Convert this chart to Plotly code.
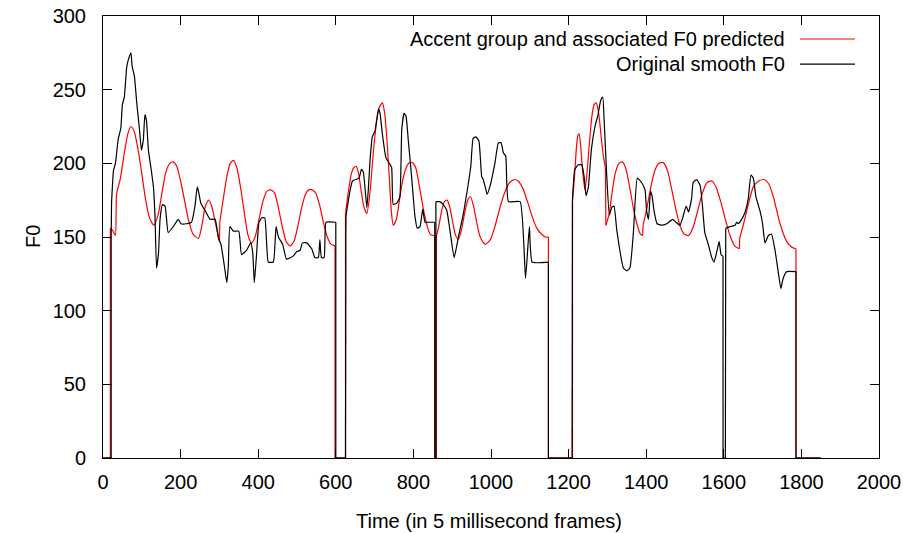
import plotly.graph_objects as go

# Predicted F0 (accent groups) - (frame, F0)
red_frames = [0, 19, 19, 26, 32, 35, 45, 55, 64, 72, 80, 90, 100, 110, 120, 131, 142, 152, 162, 172, 181, 190, 200, 210, 220, 232, 246, 255, 263, 272, 280, 290, 300, 301, 310, 320, 328, 336, 345, 355, 365, 374, 383, 392, 402, 412, 422, 432, 442, 452, 462, 472, 482, 492, 502, 512, 522, 530, 539, 548, 558, 568, 578, 588, 598, 598, 625,
              625, 632, 640, 646, 652, 658, 665, 672, 680, 688, 696, 704, 712, 720, 726, 732, 738, 743, 748, 756, 764, 772, 780, 788, 797, 806, 815, 825, 835, 843, 851, 856, 856, 859, 859, 866, 873, 880, 887, 894, 902, 909, 916, 924, 932, 940, 947, 955, 963, 972, 985, 998, 1010, 1022, 1035, 1048, 1060, 1070, 1082, 1094, 1106, 1118, 1130, 1140, 1148, 1148, 1210,
              1210, 1215, 1220, 1224, 1227, 1231, 1236, 1242, 1248, 1254, 1260, 1266, 1271, 1277, 1284, 1290, 1295, 1296, 1304, 1312, 1320, 1330, 1339, 1348, 1358, 1368, 1378, 1385, 1391, 1392, 1402, 1412, 1422, 1433, 1444, 1455, 1466, 1477, 1488, 1498, 1509, 1520, 1532, 1545, 1557, 1569, 1580, 1592, 1604, 1616, 1628, 1640, 1641, 1652, 1664, 1676, 1690, 1704, 1716, 1728, 1745, 1762, 1775, 1786, 1786, 1850]
red_f0 = [0, 0, 156, 154, 151, 179, 190, 207, 220, 225, 222, 210, 193, 175, 163, 158, 165, 180, 194, 200, 201, 198, 188, 175, 162, 152, 149, 158, 170, 175, 171, 159, 147, 160, 176, 192, 200, 202, 197, 183, 165, 151, 146, 150, 162, 174, 181, 182, 180, 170, 157, 147, 144, 147, 157, 170, 179, 182, 182, 180, 172, 160, 150, 145, 144, 0, 0,
          166, 180, 193, 197, 198, 194, 182, 171, 166, 180, 205, 226, 238, 241, 234, 215, 190, 168, 158, 162, 175, 188, 196, 200, 200.5, 197, 185, 170, 158, 152, 151, 151, 0, 0, 150, 158, 168, 174, 175, 170, 159, 151, 148.5, 155, 166, 175, 177.5, 171, 160, 150, 145, 148, 157, 169, 180, 187, 189, 188, 183, 174, 164, 156, 152, 150, 150, 0, 0,
          175, 190, 210, 219, 220, 212, 195, 182, 195, 215, 232, 240, 241, 235, 218, 204, 197, 158, 165, 180, 193, 200, 201, 196, 183, 168, 157, 152, 151, 158, 170, 184, 195, 200, 200.5, 195, 182, 168, 157, 152, 151, 156, 167, 180, 187, 188, 184, 174, 162, 151, 144, 142, 149, 160, 173, 184, 188, 189, 186, 177, 159, 147, 143, 142, 0, 0]

# Original smooth F0 - (frame, F0)
black_frames = [0, 21, 21, 22, 27, 32, 39, 46, 50, 55, 61, 65, 72, 75, 81, 87, 94, 99, 104, 108, 112, 117, 123, 130, 134, 138, 143, 147, 153, 160, 168, 181, 194, 201, 215, 228, 237, 243, 247, 252, 263, 276, 289, 297, 304, 313, 319, 323, 327, 336, 350, 357, 370, 381, 386, 390, 396, 402, 409, 417, 426, 439, 446, 452, 463, 473, 490, 499, 508, 514, 525, 538, 546, 555, 559, 563, 570, 575, 600, 600, 625,
                626, 637, 643, 660, 666, 671, 680, 684, 688, 694, 701, 710, 714, 720, 729, 738, 744, 748, 757, 765, 770, 776, 781, 787, 795, 804, 810, 817, 824, 830, 838, 855, 855, 858, 858, 868, 877, 886, 894, 905, 916, 929, 942, 948, 954, 961, 969, 976, 980, 985, 990, 997, 1010, 1019, 1026, 1032, 1038, 1045, 1075, 1089, 1099, 1106, 1148, 1148, 1209,
                1210, 1216, 1225, 1234, 1240, 1245, 1251, 1259, 1268, 1275, 1283, 1288, 1292, 1298, 1305, 1311, 1317, 1324, 1332, 1341, 1350, 1358, 1367, 1377, 1388, 1397, 1401, 1406, 1411, 1415, 1420, 1428, 1440, 1453, 1468, 1477, 1487, 1494, 1503, 1509, 1517, 1521, 1530, 1539, 1545, 1551, 1560, 1569, 1575, 1582, 1588, 1593, 1598, 1598, 1604,
                1605, 1616, 1629, 1633, 1637, 1646, 1655, 1663, 1670, 1676, 1683, 1693, 1700, 1706, 1715, 1723, 1732, 1741, 1747, 1752, 1758, 1762, 1786, 1786, 1850]
black_f0 = [0, 0, 150, 173, 195, 200, 216, 224, 240, 245, 265, 270, 275, 266, 259, 241, 223, 209, 216, 233, 229, 209, 198, 184, 164, 129, 139, 162, 172, 171, 153, 157, 162, 159, 159, 160, 171, 184, 180, 173, 168, 162, 162, 150, 145, 130, 119, 130, 157, 154, 154, 138, 141, 146, 139, 119, 139, 160, 163, 163, 133, 133, 157, 150, 145, 135, 137, 140, 141, 146, 146, 142, 136, 136, 148, 136, 136, 160, 160, 0, 0,
            164, 182, 188, 190, 196, 194, 170, 183, 201, 218, 222, 237, 234, 220, 204, 200, 197, 172, 173, 177, 223, 234, 232, 215, 192, 164, 156, 157, 169, 160, 160, 160, 0, 0, 174, 174, 172, 168, 155, 136, 150, 166, 187, 198, 217, 218, 215, 191, 189, 184, 179, 184, 200, 214, 214, 207, 205, 174, 174, 122, 157, 133, 133, 0, 0,
            175, 196, 199, 199, 191, 178, 184, 210, 225, 232, 243, 245, 227, 193, 165, 170, 171, 155, 141, 129, 127, 129, 153, 190, 187, 182, 168, 162, 181, 178, 168, 159, 158, 159, 162, 160, 158, 163, 171, 167, 176, 187, 189, 185, 171, 153, 145, 136, 133, 140, 147, 138, 137, 0, 0,
            156, 157, 158, 160, 159, 162, 167, 176, 192, 190, 177, 168, 159, 146, 151, 152, 141, 125, 115, 121, 125, 126.5, 126.5, 0, 0]

x_ticks = [0, 200, 400, 600, 800, 1000, 1200, 1400, 1600, 1800, 2000]
y_ticks = [0, 50, 100, 150, 200, 250, 300]

series_names = ["Accent group and associated F0 predicted", "Original smooth F0"]
series_colors = ["#ff0000", "#000000"]

FONT = "Liberation Sans, Arial, sans-serif"
FS = 20


def split_series(xs, ys):
    """Smooth runs (drawn as splines) and jump / zero runs (drawn straight)."""
    sx, sy, lx, ly = [], [], [], []
    for i in range(len(xs) - 1):
        x0, y0, x1, y1 = xs[i], ys[i], xs[i + 1], ys[i + 1]
        if abs(x1 - x0) <= 1 or (y0 == 0 and y1 == 0):
            lx += [x0, x1, None]
            ly += [y0, y1, None]
            if sx and sx[-1] is not None:
                sx.append(None)
                sy.append(None)
        else:
            if not sx or sx[-1] is None:
                sx.append(x0)
                sy.append(y0)
            sx.append(x1)
            sy.append(y1)
    return sx, sy, lx, ly


fig = go.Figure()
for xs, ys, name, color, sm in [(red_frames, red_f0, series_names[0], series_colors[0], 0.6),
                                (black_frames, black_f0, series_names[1], series_colors[1], 0.4)]:
    sx, sy, lx, ly = split_series(xs, ys)
    fig.add_trace(go.Scatter(x=sx, y=sy, mode="lines", connectgaps=False,
                             line=dict(color=color, width=1.2, shape="spline", smoothing=sm),
                             name=name, showlegend=False, hoverinfo="skip"))
    fig.add_trace(go.Scatter(x=lx, y=ly, mode="lines", connectgaps=False,
                             line=dict(color=color, width=1.2),
                             name=name, showlegend=False, hoverinfo="skip"))

# gnuplot-style key (text left of sample line)
key_rows = [0.948, 0.891]
for name, color, yy in zip(series_names, series_colors, key_rows):
    fig.add_annotation(x=0.8814, y=yy, xref="paper", yref="paper",
                       text=name, showarrow=False, xanchor="right", yanchor="middle",
                       font=dict(family=FONT, size=FS, color="black"))
    fig.add_shape(type="line", xref="paper", yref="paper",
                  x0=0.8982, x1=0.969, y0=yy, y1=yy,
                  line=dict(color=color, width=1.2))

fig.add_annotation(x=0.497, y=-0.1425, xref="paper", yref="paper",
                   text="Time (in 5 millisecond frames)", showarrow=False,
                   xanchor="center", yanchor="middle",
                   font=dict(family=FONT, size=FS, color="black"))
fig.add_annotation(x=-0.0902, y=0.5, xref="paper", yref="paper",
                   text="F0", showarrow=False, textangle=-90,
                   xanchor="center", yanchor="middle",
                   font=dict(family=FONT, size=FS, color="black"))

axis_common = dict(showgrid=False, zeroline=False, showline=True, linecolor="black",
                   linewidth=1, mirror="ticks", ticks="inside", ticklen=9,
                   tickcolor="black", tickwidth=1, automargin=False,
                   tickfont=dict(family=FONT, size=FS, color="black"))

fig.update_xaxes(range=[0, 2000], tickvals=x_ticks, ticktext=[str(v) for v in x_ticks],
                 ticklabelstandoff=6, **axis_common)
fig.update_yaxes(range=[0, 300], tickvals=y_ticks, ticktext=[str(v) for v in y_ticks],
                 ticklabelstandoff=12, **axis_common)

fig.update_layout(width=903, height=533,
                  margin=dict(l=103, r=24, t=16, b=75, autoexpand=False),
                  plot_bgcolor="white", paper_bgcolor="white",
                  showlegend=False,
                  font=dict(family=FONT, size=FS, color="black"))

fig.write_html("out.html", config={"displayModeBar": False},
               post_script="document.body.style.margin='0px';document.body.style.padding='0px';document.body.style.overflow='hidden';")
